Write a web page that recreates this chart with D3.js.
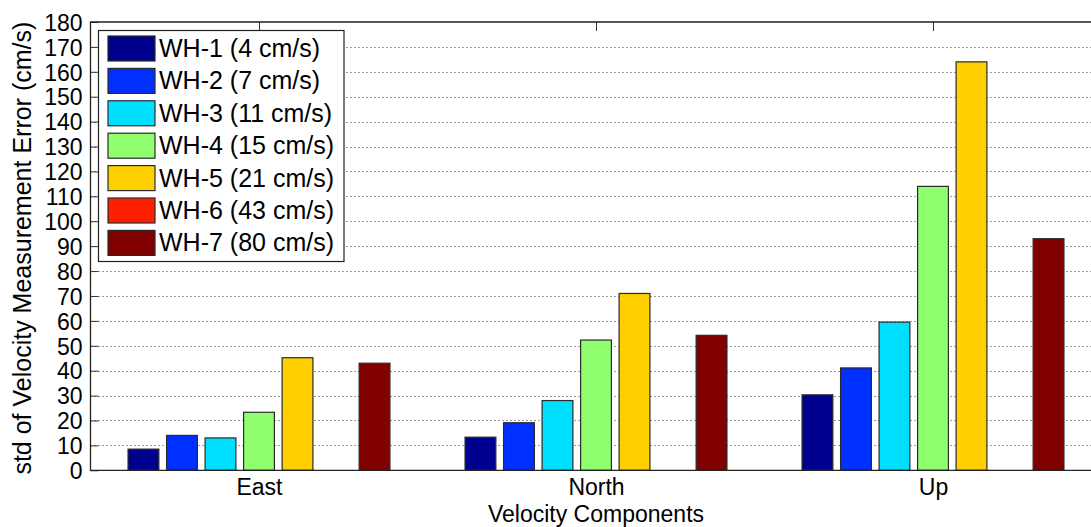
<!DOCTYPE html>
<html>
<head>
<meta charset="utf-8">
<script src="https://cdn.jsdelivr.net/npm/d3@7"></script>
<style>
  html, body { margin: 0; padding: 0; background: #fff; }
  svg { display: block; }
  text { font-family: "Liberation Sans", Arial, Helvetica, sans-serif; fill: #000; }
</style>
</head>
<body>
<svg id="chart" width="1091" height="527"></svg>
<script>
// Velocity components on the x axis
const categories = ["East", "North", "Up"];

// Instrument series (name shown in the legend)
const seriesNames = [
  "WH-1 (4 cm/s)", "WH-2 (7 cm/s)", "WH-3 (11 cm/s)", "WH-4 (15 cm/s)",
  "WH-5 (21 cm/s)", "WH-6 (43 cm/s)", "WH-7 (80 cm/s)"
];

// std of velocity measurement error (cm/s), one array per series: [East, North, Up]
const wh1 = [8.5, 13.3, 30.3];
const wh2 = [14.0, 19.1, 41.1];
const wh3 = [13.0, 28.0, 59.5];
const wh4 = [23.3, 52.3, 114.0];
const wh5 = [45.2, 71.0, 164.0];
const wh6 = [0, 0, 0];
const wh7 = [43.0, 54.2, 93.0];

const yTicks = d3.range(0, 181, 10);

const seriesValues = [wh1, wh2, wh3, wh4, wh5, wh6, wh7];
const colors = ["#00008f", "#0030ff", "#00dfff", "#8fff70", "#ffcf00", "#ff2000", "#800000"];

const svg = d3.select("#chart");
const plot = { left: 90.5, right: 1101.5, top: 22, bottom: 470.3 };

// categories sit at 1, 2, 3 with half a step of padding on each side
const x = d3.scaleLinear().domain([0.5, categories.length + 0.5]).range([plot.left, plot.right]);
const y = d3.scaleLinear().domain([0, 180]).range([plot.bottom, plot.top]);

const nSeries = seriesNames.length;
const groupWidth = 0.8;
const step = groupWidth / nSeries;
const barWidth = step * 0.8;

// dotted horizontal grid
svg.append("g")
  .selectAll("line")
  .data(yTicks.filter(t => t > 0 && t < 180))
  .join("line")
  .attr("x1", plot.left).attr("x2", plot.right)
  .attr("y1", d => Math.round(y(d)) + 0.5).attr("y2", d => Math.round(y(d)) + 0.5)
  .attr("stroke", "#333")
  .attr("stroke-width", 1)
  .attr("stroke-dasharray", "1,3");

// y axis (ticks pointing inward)
const yAxis = svg.append("g")
  .attr("transform", `translate(${plot.left},0)`)
  .call(d3.axisLeft(y).tickValues(yTicks).tickSize(-8).tickPadding(8).tickSizeOuter(0));
yAxis.select(".domain").remove();
yAxis.selectAll(".tick line").attr("stroke", "#333");
yAxis.selectAll(".tick text").style("font-size", "23px").attr("dy", "0.36em");

// bottom axis with category labels
const xAxis = svg.append("g")
  .attr("transform", `translate(0,${plot.bottom})`)
  .call(d3.axisBottom(x).tickValues(categories.map((c, i) => i + 1))
    .tickFormat((d, i) => categories[i]).tickSize(-9).tickPadding(8.4).tickSizeOuter(0));
xAxis.select(".domain").remove();
xAxis.selectAll(".tick line").attr("stroke", "#333");
xAxis.selectAll(".tick text").style("font-size", "23px");

// top axis ticks
const topAxis = svg.append("g")
  .attr("transform", `translate(0,${plot.top})`)
  .call(d3.axisTop(x).tickValues(categories.map((c, i) => i + 1))
    .tickFormat("").tickSize(-9).tickSizeOuter(0));
topAxis.select(".domain").remove();
topAxis.selectAll(".tick line").attr("stroke", "#333");

// bars
const bars = [];
seriesValues.forEach((vals, s) => {
  vals.forEach((v, c) => {
    bars.push({ s, c, v });
  });
});

svg.append("g")
  .selectAll("rect")
  .data(bars.filter(d => d.v > 0))
  .join("rect")
  .attr("x", d => x(d.c + 1 + (d.s - (nSeries - 1) / 2) * step - barWidth / 2))
  .attr("width", d => x(barWidth) - x(0))
  .attr("y", d => y(d.v))
  .attr("height", d => y(0) - y(d.v))
  .attr("fill", d => colors[d.s])
  .attr("stroke", "#2a2a2a")
  .attr("stroke-width", 1.2);

// axes box
svg.append("path")
  .attr("d", `M${plot.right},${plot.top}H${plot.left}V${plot.bottom}H${plot.right}`)
  .attr("fill", "none")
  .attr("stroke", "#222")
  .attr("stroke-width", 1.3);

// axis titles
svg.append("text")
  .attr("x", x(2))
  .attr("y", 521.5)
  .attr("text-anchor", "middle")
  .style("font-size", "23px")
  .text("Velocity Components");

svg.append("text")
  .attr("transform", `translate(31,${(plot.top + plot.bottom) / 2 + 2}) rotate(-90)`)
  .attr("text-anchor", "middle")
  .style("font-size", "25px")
  .text("std of Velocity Measurement Error (cm/s)");

// legend
const legend = svg.append("g");
legend.append("rect")
  .attr("x", 98.5).attr("y", 30.5)
  .attr("width", 245.5).attr("height", 231)
  .attr("fill", "#fff")
  .attr("stroke", "#222")
  .attr("stroke-width", 1.2);

const rowH = 32.4;
const rows = legend.selectAll("g.row")
  .data(seriesNames)
  .join("g")
  .attr("class", "row")
  .attr("transform", (d, i) => `translate(0,${36 + i * rowH})`);

rows.append("rect")
  .attr("x", 108).attr("y", 0)
  .attr("width", 47).attr("height", 25)
  .attr("fill", (d, i) => colors[i])
  .attr("stroke", "#2a2a2a")
  .attr("stroke-width", 1.2);

rows.append("text")
  .attr("x", 159)
  .attr("y", 21)
  .style("font-size", "25px")
  .text(d => d);
</script>
</body>
</html>
